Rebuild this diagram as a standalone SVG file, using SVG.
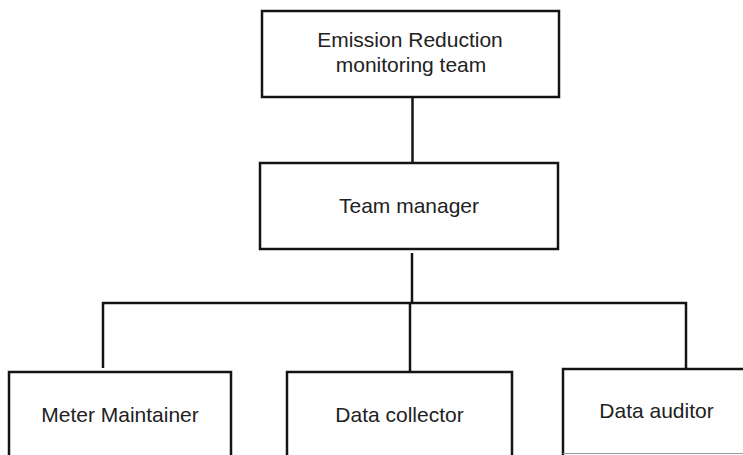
<svg xmlns="http://www.w3.org/2000/svg" width="743" height="455" viewBox="0 0 743 455">
<style>
.box{fill:#fff;stroke:#141414;stroke-width:2.5}
.lbl{font-family:"Liberation Sans",Arial,sans-serif;font-size:21px;fill:#222;text-anchor:middle}
.conn{stroke:#141414;stroke-width:2.5;fill:none}
</style>
<rect width="743" height="455" fill="#fff"/>
<g id="connectors">
<line class="conn" x1="412.5" y1="97" x2="412.5" y2="163"/>
<line class="conn" x1="412" y1="253" x2="412" y2="303"/>
<polyline class="conn" points="103,368 103,303 686,303 686,369"/>
<line class="conn" x1="410" y1="303" x2="410" y2="372"/>
</g>
<g id="n-emission">
<rect class="box" x="262" y="11" width="297" height="86"/>
<text class="lbl" x="410" y="47">Emission Reduction</text>
<text class="lbl" x="411" y="72">monitoring team</text>
</g>
<g id="n-manager">
<rect class="box" x="260" y="163" width="298" height="86"/>
<text class="lbl" x="409" y="213">Team manager</text>
</g>
<g id="n-meter">
<rect class="box" x="9" y="372" width="222" height="100"/>
<text class="lbl" x="120" y="422">Meter Maintainer</text>
</g>
<g id="n-collector">
<rect class="box" x="287" y="372" width="225" height="100"/>
<text class="lbl" x="399.5" y="422">Data collector</text>
</g>
<g id="n-auditor">
<path class="box" d="M750,453 L563,453 L563,369 L750,369" style="stroke:none"/>
<path class="conn" d="M563,455 L563,369 L750,369"/>
<line x1="563" y1="453.5" x2="743" y2="453.5" stroke="#9a9a9a" stroke-width="1"/>
<text class="lbl" x="656.5" y="418">Data auditor</text>
</g>
</svg>
